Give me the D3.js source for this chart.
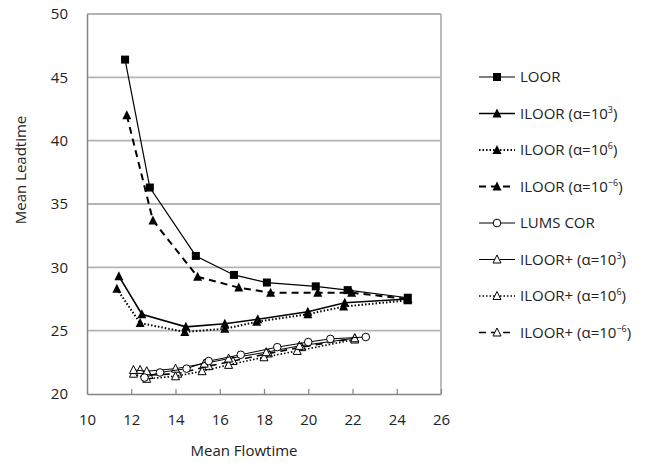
<!DOCTYPE html>
<html>
<head>
<meta charset="utf-8">
<script src="https://cdn.jsdelivr.net/npm/d3@7"></script>
<style>
  body { margin: 0; background: #fff; }
  svg { display: block; }
</style>
</head>
<body>
<div id="chart"></div>
<script>
// series values: [mean flowtime, mean leadtime]
const loor        = [[11.72,46.4],[12.84,36.3],[14.92,30.9],[16.64,29.4],[18.13,28.8],[20.34,28.5],[21.78,28.2],[24.5,27.6]];
const iloor3      = [[11.44,29.3],[12.48,26.3],[14.47,25.3],[16.23,25.55],[17.72,25.9],[19.98,26.5],[21.65,27.2],[24.5,27.5]];
const iloor6      = [[11.35,28.3],[12.4,25.6],[14.42,24.9],[16.23,25.15],[17.67,25.7],[19.98,26.3],[21.6,26.9],[24.5,27.4]];
const iloorNeg6   = [[11.8,42.0],[12.98,33.7],[15.0,29.25],[16.86,28.4],[18.3,28.0],[20.43,28.0],[21.96,28.0],[24.5,27.5]];
const lumsCor     = [[12.6,21.3],[13.3,21.7],[14.5,22.0],[15.5,22.6],[16.95,23.1],[18.6,23.7],[20.0,24.1],[21.0,24.35],[22.6,24.5]];
const iloorP3     = [[12.1,21.9],[12.7,21.8],[14.0,22.0],[15.3,22.4],[16.4,22.8],[18.1,23.3],[19.6,23.8],[22.1,24.4]];
const iloorP6     = [[12.1,21.6],[12.7,21.2],[14.0,21.4],[15.2,21.8],[16.4,22.3],[18.0,22.9],[19.5,23.4],[22.1,24.3]];
const iloorPNeg6  = [[12.4,21.9],[12.8,21.5],[14.1,21.6],[15.5,22.2],[16.6,22.6],[18.2,23.2],[19.7,23.7],[22.1,24.4]];

const xTicks = [10, 12, 14, 16, 18, 20, 22, 24, 26];
const yTicks = [20, 25, 30, 35, 40, 45, 50];

// legend names: base text + superscript exponent
const series = [
  {name: "LOOR", sup: null, data: loor, marker: "square", dash: null, width: 1.2},
  {name: "ILOOR (\u03b1=10", sup: "3", data: iloor3, marker: "triangle", dash: null, width: 1.6},
  {name: "ILOOR (\u03b1=10", sup: "6", data: iloor6, marker: "triangle", dash: "1.5,2", width: 2},
  {name: "ILOOR (\u03b1=10", sup: "\u22126", data: iloorNeg6, marker: "triangle", dash: "7,5", width: 2},
  {name: "LUMS COR", sup: null, data: lumsCor, marker: "circle", dash: null, width: 1},
  {name: "ILOOR+ (\u03b1=10", sup: "3", data: iloorP3, marker: "opentri", dash: null, width: 1},
  {name: "ILOOR+ (\u03b1=10", sup: "6", data: iloorP6, marker: "opentri", dash: "1.5,2", width: 1.6},
  {name: "ILOOR+ (\u03b1=10", sup: "\u22126", data: iloorPNeg6, marker: "opentri", dash: "7,5", width: 1.6}
];

(function() {
  const W = 650, H = 463;
  const pLeft = 87, pRight = 441, pTop = 14, pBottom = 394;
  const font = "'Open Sans', 'Liberation Sans', sans-serif";
  const fs = 15;

  const svg = d3.select("#chart").append("svg")
    .attr("width", W).attr("height", H)
    .style("font-family", font);

  const x = d3.scaleLinear().domain([10, 26]).range([pLeft, pRight]);
  const y = d3.scaleLinear().domain([20, 50]).range([pBottom, pTop]);

  // gridlines
  svg.append("g")
    .selectAll("line")
    .data(yTicks.slice(1))
    .enter().append("line")
    .attr("x1", pLeft).attr("x2", pRight)
    .attr("y1", d => y(d)).attr("y2", d => y(d))
    .attr("stroke", "#b4b4b4").attr("stroke-width", 1.8);

  // right border
  svg.append("line")
    .attr("x1", pRight).attr("x2", pRight).attr("y1", pTop).attr("y2", pBottom)
    .attr("stroke", "#b4b4b4").attr("stroke-width", 1.8);

  // axes
  const xAxis = svg.append("g")
    .attr("transform", `translate(0,${pBottom})`)
    .call(d3.axisBottom(x).tickValues(xTicks).tickSizeInner(-5).tickSizeOuter(0).tickPadding(20));
  const yAxis = svg.append("g")
    .attr("transform", `translate(${pLeft},0)`)
    .call(d3.axisLeft(y).tickValues(yTicks).tickSize(0).tickPadding(19));

  [xAxis, yAxis].forEach(a => {
    a.select(".domain").attr("stroke", "#858585").attr("stroke-width", 1.5);
    a.selectAll(".tick line").attr("stroke", "#858585").attr("stroke-width", 1.2);
    a.selectAll("text").attr("font-family", font).attr("font-size", fs).attr("fill", "#222");
  });
  xAxis.selectAll(".tick").filter(d => d === 10).select("line").remove();

  svg.append("text")
    .attr("x", 244).attr("y", 456)
    .attr("text-anchor", "middle")
    .attr("font-size", fs).attr("fill", "#222")
    .text("Mean Flowtime");

  svg.append("text")
    .attr("transform", "translate(26,170) rotate(-90)")
    .attr("text-anchor", "middle")
    .attr("font-size", fs).attr("fill", "#222")
    .text("Mean Leadtime");

  function drawMarker(g, type, cx, cy) {
    if (type === "square") {
      g.append("rect").attr("x", cx - 4).attr("y", cy - 4).attr("width", 8).attr("height", 8).attr("fill", "#000");
    } else if (type === "triangle") {
      g.append("path").attr("d", `M${cx},${cy - 5}L${cx + 4.5},${cy + 4}L${cx - 4.5},${cy + 4}Z`).attr("fill", "#000");
    } else if (type === "circle") {
      g.append("circle").attr("cx", cx).attr("cy", cy).attr("r", 3.8).attr("fill", "#fff").attr("stroke", "#000").attr("stroke-width", 1);
    } else {
      g.append("path").attr("d", `M${cx},${cy - 4.5}L${cx + 4},${cy + 3.5}L${cx - 4},${cy + 3.5}Z`)
        .attr("fill", "#fff").attr("stroke", "#000").attr("stroke-width", 1);
    }
  }

  const line = d3.line().x(d => x(d[0])).y(d => y(d[1]));

  // draw lower series first so upper ones sit on top
  series.slice().reverse().forEach(s => {
    const g = svg.append("g");
    g.append("path")
      .attr("d", line(s.data))
      .attr("fill", "none")
      .attr("stroke", "#000")
      .attr("stroke-width", s.width)
      .attr("stroke-dasharray", s.dash);
    s.data.forEach(d => drawMarker(g, s.marker, x(d[0]), y(d[1])));
  });

  // legend
  const legend = svg.append("g").attr("transform", "translate(479,77)");
  series.forEach((s, i) => {
    const row = legend.append("g").attr("transform", `translate(0,${i * 36.5})`);
    row.append("line")
      .attr("x1", 0).attr("x2", 36).attr("y1", 0).attr("y2", 0)
      .attr("stroke", "#000").attr("stroke-width", s.width)
      .attr("stroke-dasharray", s.dash);
    drawMarker(row, s.marker, 18, 0);
    const t = row.append("text")
      .attr("x", 41).attr("y", 5)
      .attr("font-size", fs).attr("fill", "#222");
    t.append("tspan").text(s.name);
    if (s.sup) {
      t.append("tspan").attr("dy", -6).attr("font-size", 9).text(s.sup);
      t.append("tspan").attr("dy", 6).text(")");
    }
  });
})();
</script>
</body>
</html>
